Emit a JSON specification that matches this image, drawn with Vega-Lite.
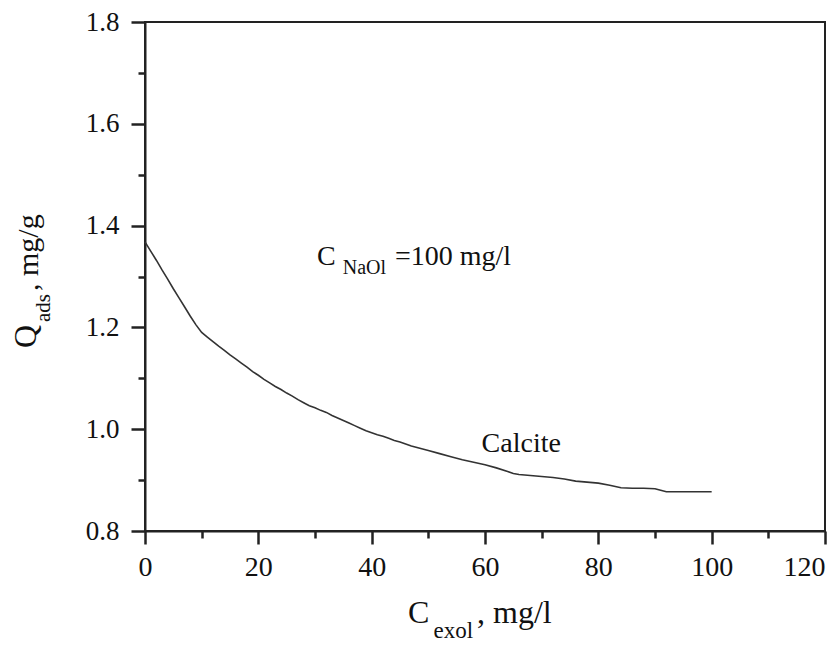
{
  "$schema": "https://vega.github.io/schema/vega-lite/v6.json",
  "width": 680,
  "height": 509,
  "autosize": {"type": "none"},
  "padding": {"left": 145, "top": 22, "right": 8, "bottom": 115},
  "background": "white",
  "config": {"view": {"stroke": "#222", "strokeWidth": 2}, "font": "Liberation Serif"},
  "datasets": {
    "curve": [
      {"c": 0, "q": 1.368}, {"c": 1, "q": 1.35}, {"c": 2, "q": 1.332}, {"c": 3, "q": 1.313}, {"c": 4, "q": 1.295},
      {"c": 5, "q": 1.276}, {"c": 6, "q": 1.258}, {"c": 7, "q": 1.24}, {"c": 8, "q": 1.222}, {"c": 9, "q": 1.205},
      {"c": 10, "q": 1.19}, {"c": 11, "q": 1.181}, {"c": 12, "q": 1.172}, {"c": 13, "q": 1.163}, {"c": 14, "q": 1.155},
      {"c": 15, "q": 1.146}, {"c": 16, "q": 1.138}, {"c": 17, "q": 1.13}, {"c": 18, "q": 1.122}, {"c": 19, "q": 1.113},
      {"c": 20, "q": 1.106}, {"c": 21, "q": 1.098}, {"c": 22, "q": 1.091}, {"c": 23, "q": 1.084}, {"c": 24, "q": 1.078},
      {"c": 25, "q": 1.071}, {"c": 26, "q": 1.065}, {"c": 27, "q": 1.058}, {"c": 28, "q": 1.052}, {"c": 29, "q": 1.046},
      {"c": 30, "q": 1.042}, {"c": 31, "q": 1.037}, {"c": 32, "q": 1.033}, {"c": 33, "q": 1.027}, {"c": 34, "q": 1.022},
      {"c": 35, "q": 1.017}, {"c": 36, "q": 1.012}, {"c": 37, "q": 1.007}, {"c": 38, "q": 1.002}, {"c": 39, "q": 0.997},
      {"c": 40, "q": 0.993}, {"c": 41, "q": 0.989}, {"c": 42, "q": 0.986}, {"c": 43, "q": 0.982}, {"c": 44, "q": 0.978},
      {"c": 45, "q": 0.975}, {"c": 46, "q": 0.971}, {"c": 47, "q": 0.967}, {"c": 48, "q": 0.964}, {"c": 49, "q": 0.961},
      {"c": 50, "q": 0.958}, {"c": 52, "q": 0.952}, {"c": 54, "q": 0.946}, {"c": 56, "q": 0.94}, {"c": 58, "q": 0.935},
      {"c": 60, "q": 0.93}, {"c": 62, "q": 0.924}, {"c": 64, "q": 0.917}, {"c": 65, "q": 0.913}, {"c": 66, "q": 0.911},
      {"c": 68, "q": 0.909}, {"c": 70, "q": 0.907}, {"c": 72, "q": 0.905}, {"c": 74, "q": 0.902}, {"c": 76, "q": 0.898},
      {"c": 78, "q": 0.896}, {"c": 80, "q": 0.894}, {"c": 82, "q": 0.89}, {"c": 84, "q": 0.885}, {"c": 86, "q": 0.884},
      {"c": 88, "q": 0.884}, {"c": 90, "q": 0.883}, {"c": 91, "q": 0.88}, {"c": 92, "q": 0.877}, {"c": 96, "q": 0.877},
      {"c": 100, "q": 0.877}
    ]
  },
  "resolve": {"axis": {"x": "independent", "y": "independent"}},
  "layer": [
    {
      "data": {"name": "curve"},
      "mark": {"type": "line", "color": "#333", "strokeWidth": 1.6},
      "encoding": {
        "x": {
          "field": "c", "type": "quantitative",
          "scale": {"domain": [0, 120], "nice": false, "zero": false},
          "axis": {
            "orient": "bottom", "values": [0, 20, 40, 60, 80, 100, 120], "format": "d", "title": null,
            "grid": false, "tickSize": 13, "tickWidth": 2.5, "tickColor": "#222",
            "domainColor": "#222", "domainWidth": 2,
            "labelFont": "Liberation Serif", "labelFontSize": 28, "labelColor": "#111",
            "labelAlign": {"condition": {"test": "datum.value === 120", "value": "right"}, "value": "center"},
            "labelPadding": 9, "labelFlush": false, "labelOverlap": false
          }
        },
        "y": {
          "field": "q", "type": "quantitative",
          "scale": {"domain": [0.8, 1.8], "nice": false, "zero": false},
          "axis": {
            "orient": "left", "values": [0.8, 1.0, 1.2, 1.4, 1.6, 1.8], "format": ".1f", "title": null,
            "grid": false, "tickSize": 14, "tickWidth": 2.5, "tickColor": "#222",
            "domainColor": "#222", "domainWidth": 2,
            "labelFont": "Liberation Serif", "labelFontSize": 27, "labelColor": "#111",
            "labelPadding": 12, "labelFlush": false, "labelOverlap": false
          }
        }
      }
    },
    {
      "data": {"name": "curve"},
      "mark": {"type": "point", "opacity": 0},
      "encoding": {
        "x": {
          "field": "c", "type": "quantitative",
          "axis": {
            "orient": "bottom", "values": [10, 30, 50, 70, 90, 110], "title": null, "labels": false,
            "domain": false, "grid": false, "tickSize": 7, "tickWidth": 2.5, "tickColor": "#222"
          }
        },
        "y": {
          "field": "q", "type": "quantitative",
          "axis": {
            "orient": "left", "values": [0.9, 1.1, 1.3, 1.5, 1.7], "title": null, "labels": false,
            "domain": false, "grid": false, "tickSize": 7, "tickWidth": 2.5, "tickColor": "#222"
          }
        }
      }
    },
    {
      "data": {"values": [{}]},
      "mark": {"type": "text", "text": "C", "font": "Liberation Serif", "fontSize": 28, "align": "left", "baseline": "alphabetic", "color": "#111"},
      "encoding": {"x": {"datum": 30.35, "type": "quantitative", "axis": null}, "y": {"datum": 1.3226, "type": "quantitative", "axis": null}}
    },
    {
      "data": {"values": [{}]},
      "mark": {"type": "text", "text": "NaOl", "font": "Liberation Serif", "fontSize": 20, "align": "left", "baseline": "alphabetic", "color": "#111"},
      "encoding": {"x": {"datum": 34.9, "type": "quantitative", "axis": null}, "y": {"datum": 1.305, "type": "quantitative", "axis": null}}
    },
    {
      "data": {"values": [{}]},
      "mark": {"type": "text", "text": "=100 mg/l", "font": "Liberation Serif", "fontSize": 28, "align": "left", "baseline": "alphabetic", "color": "#111"},
      "encoding": {"x": {"datum": 44.1, "type": "quantitative", "axis": null}, "y": {"datum": 1.3226, "type": "quantitative", "axis": null}}
    },
    {
      "data": {"values": [{}]},
      "mark": {"type": "text", "text": "Calcite", "font": "Liberation Serif", "fontSize": 28, "align": "left", "baseline": "alphabetic", "color": "#111"},
      "encoding": {"x": {"datum": 59.4, "type": "quantitative", "axis": null}, "y": {"datum": 0.956, "type": "quantitative", "axis": null}}
    },
    {
      "data": {"values": [{}]},
      "mark": {"type": "text", "text": "C", "font": "Liberation Serif", "fontSize": 32, "align": "left", "baseline": "alphabetic", "color": "#111"},
      "encoding": {"x": {"datum": 46.4, "type": "quantitative", "axis": null}, "y": {"datum": 0.619, "type": "quantitative", "axis": null}}
    },
    {
      "data": {"values": [{}]},
      "mark": {"type": "text", "text": "exol", "font": "Liberation Serif", "fontSize": 23, "align": "left", "baseline": "alphabetic", "color": "#111"},
      "encoding": {"x": {"datum": 50.9, "type": "quantitative", "axis": null}, "y": {"datum": 0.59, "type": "quantitative", "axis": null}}
    },
    {
      "data": {"values": [{}]},
      "mark": {"type": "text", "text": ", mg/l", "font": "Liberation Serif", "fontSize": 32, "align": "left", "baseline": "alphabetic", "color": "#111"},
      "encoding": {"x": {"datum": 58.6, "type": "quantitative", "axis": null}, "y": {"datum": 0.619, "type": "quantitative", "axis": null}}
    },
    {
      "data": {"values": [{}]},
      "mark": {"type": "text", "text": "Q", "font": "Liberation Serif", "fontSize": 32, "angle": 270, "align": "left", "baseline": "alphabetic", "color": "#111"},
      "encoding": {"x": {"datum": -19.2, "type": "quantitative", "axis": null}, "y": {"datum": 1.1595, "type": "quantitative", "axis": null}}
    },
    {
      "data": {"values": [{}]},
      "mark": {"type": "text", "text": "ads", "font": "Liberation Serif", "fontSize": 21, "angle": 270, "align": "left", "baseline": "alphabetic", "color": "#111"},
      "encoding": {"x": {"datum": -16.8, "type": "quantitative", "axis": null}, "y": {"datum": 1.2106, "type": "quantitative", "axis": null}}
    },
    {
      "data": {"values": [{}]},
      "mark": {"type": "text", "text": ", mg/g", "font": "Liberation Serif", "fontSize": 30, "angle": 270, "align": "left", "baseline": "alphabetic", "color": "#111"},
      "encoding": {"x": {"datum": -18.9, "type": "quantitative", "axis": null}, "y": {"datum": 1.2715, "type": "quantitative", "axis": null}}
    }
  ]
}
